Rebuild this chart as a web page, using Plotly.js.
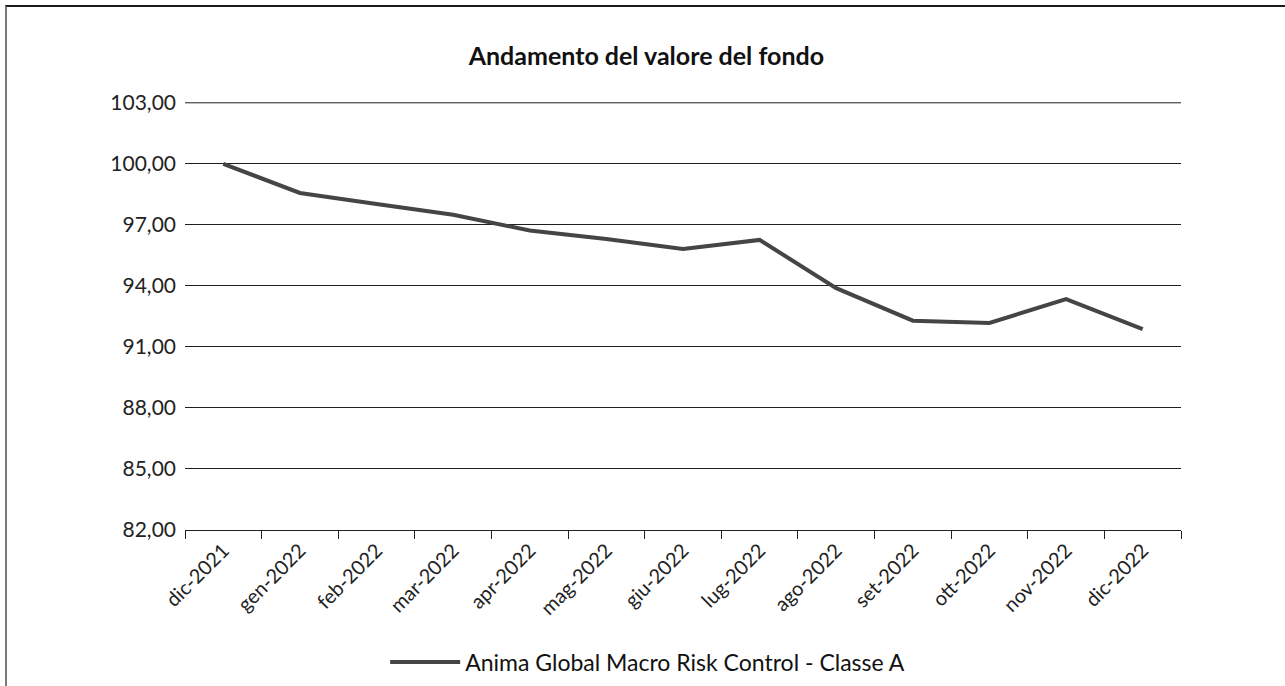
<!DOCTYPE html>
<html>
<head>
<meta charset="utf-8">
<script src="https://cdn.plot.ly/plotly-3.0.1.min.js"></script>
<style>
  html, body { margin: 0; padding: 0; background: #fff; }
  #wrap { position: relative; width: 1285px; height: 686px; }
  #chart { position: absolute; left: 0; top: 0; width: 1285px; height: 686px; }
  #frame { position: absolute; left: 5px; top: 5px; width: 1280px; height: 681px;
           border-top: 2px solid #1a1a1a; border-left: 2px solid #7a7a7a;
           box-sizing: border-box; pointer-events: none; }
</style>
</head>
<body>
<div id="wrap">
  <div id="chart"></div>
  <div id="frame"></div>
</div>
<script>
const months = ["dic-2021","gen-2022","feb-2022","mar-2022","apr-2022","mag-2022","giu-2022",
                "lug-2022","ago-2022","set-2022","ott-2022","nov-2022","dic-2022"];
const fundValues = [100.00, 98.57, 98.03, 97.50, 96.72, 96.31, 95.81,
                    96.26, 93.89, 92.29, 92.18, 93.35, 91.87];
const seriesName = "Anima Global Macro Risk Control - Classe A";
const chartTitle = "Andamento del valore del fondo";
const yTicks = [82, 85, 88, 91, 94, 97, 100, 103];
const yMax = 103;

const FONT = "Lato, 'Open Sans', sans-serif";

const trace = {
  type: "scatter",
  mode: "lines",
  x: months,
  y: fundValues,
  name: seriesName,
  line: { color: "#454545", width: 4 },
  showlegend: true
};

const layout = {
  width: 1285,
  height: 686,
  paper_bgcolor: "#ffffff",
  plot_bgcolor: "#ffffff",
  separators: ",.",
  margin: { l: 185, r: 104, t: 102, b: 156, pad: 0 },
  title: {
    text: "<b>" + chartTitle + "</b>",
    font: { family: FONT, size: 25, color: "#111" },
    x: 0.503, xref: "container", xanchor: "center",
    y: 1 - 56 / 686, yref: "container", yanchor: "middle"
  },
  xaxis: {
    type: "category",
    tickson: "boundaries",
    ticks: "outside",
    ticklen: 8,
    tickcolor: "#222",
    tickwidth: 1,
    showline: true,
    linecolor: "#222",
    linewidth: 1,
    showgrid: false,
    tickangle: -45,
    tickfont: { family: FONT, size: 20, color: "#222" },
    range: [-0.5, 12.5],
    fixedrange: true
  },
  yaxis: {
    range: [82, 103.04],
    tickvals: yTicks,
    tickformat: ".2f",
    showgrid: true,
    gridcolor: "#1e1e1e",
    gridwidth: 1,
    zeroline: false,
    showline: false,
    ticks: "",
    ticklabelstandoff: 8,
    tickfont: { family: FONT, size: 21, color: "#222" },
    fixedrange: true
  },
  shapes: [{
    type: "line", xref: "paper", x0: 0, x1: 1, yref: "y", y0: yMax, y1: yMax,
    line: { color: "#1e1e1e", width: 1 }, layer: "below"
  }],
  legend: {
    orientation: "h",
    x: 0.504, xref: "container", xanchor: "center",
    y: 1 - 662 / 686, yref: "container", yanchor: "middle",
    itemwidth: 70,
    font: { family: FONT, size: 23, color: "#111" },
    bgcolor: "rgba(0,0,0,0)"
  },
  showlegend: true
};

Plotly.newPlot("chart", [trace], layout, { displayModeBar: false, staticPlot: true });
</script>
</body>
</html>
